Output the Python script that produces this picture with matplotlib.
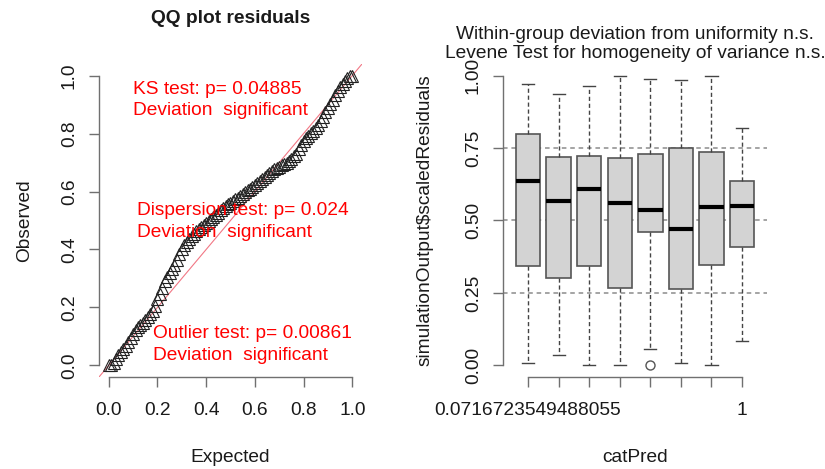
import matplotlib
matplotlib.use('Agg')
import matplotlib.pyplot as plt

plt.rcParams['font.family'] = ['Liberation Sans', 'DejaVu Sans']

# ── QQ plot data ─────────────────────────────────────────────────────────────
expected = [0.00, 0.01, 0.02, 0.03, 0.04, 0.05, 0.06, 0.07, 0.08, 0.09,
            0.10, 0.11, 0.12, 0.13, 0.14, 0.15, 0.16, 0.17, 0.18, 0.19,
            0.20, 0.21, 0.22, 0.23, 0.24, 0.25, 0.26, 0.27, 0.28, 0.29,
            0.30, 0.31, 0.32, 0.33, 0.34, 0.35, 0.36, 0.37, 0.38, 0.39,
            0.40, 0.41, 0.42, 0.43, 0.44, 0.45, 0.46, 0.47, 0.48, 0.49,
            0.50, 0.51, 0.52, 0.53, 0.54, 0.55, 0.56, 0.57, 0.58, 0.59,
            0.60, 0.61, 0.62, 0.63, 0.64, 0.65, 0.66, 0.67, 0.68, 0.69,
            0.70, 0.71, 0.72, 0.73, 0.74, 0.75, 0.76, 0.77, 0.78, 0.79,
            0.80, 0.81, 0.82, 0.83, 0.84, 0.85, 0.86, 0.87, 0.88, 0.89,
            0.90, 0.91, 0.92, 0.93, 0.94, 0.95, 0.96, 0.97, 0.98, 0.99, 1.00]
observed = [0.000, 0.003, 0.010, 0.022, 0.036, 0.045, 0.055, 0.066, 0.080, 0.094,
            0.108, 0.122, 0.131, 0.139, 0.148, 0.157, 0.166, 0.177, 0.188, 0.205,
            0.228, 0.248, 0.268, 0.290, 0.305, 0.318, 0.333, 0.348, 0.365, 0.385,
            0.402, 0.414, 0.425, 0.436, 0.446, 0.455, 0.463, 0.470, 0.478, 0.485,
            0.492, 0.499, 0.505, 0.512, 0.520, 0.527, 0.535, 0.543, 0.551, 0.557,
            0.562, 0.567, 0.573, 0.579, 0.585, 0.591, 0.598, 0.604, 0.610, 0.617,
            0.622, 0.628, 0.635, 0.643, 0.650, 0.657, 0.664, 0.670, 0.676, 0.681,
            0.686, 0.690, 0.694, 0.698, 0.705, 0.713, 0.721, 0.730, 0.745, 0.762,
            0.776, 0.784, 0.792, 0.801, 0.810, 0.819, 0.830, 0.843, 0.858, 0.873,
            0.888, 0.902, 0.917, 0.932, 0.947, 0.960, 0.972, 0.982, 0.991, 0.997, 1.000]

ks_text = ["KS test: p= 0.04885", "Deviation  significant"]
disp_text = ["Dispersion test: p= 0.024", "Deviation  significant"]
outl_text = ["Outlier test: p= 0.00861", "Deviation  significant"]

# ── Boxplot data per catPred group ───────────────────────────────────────────
cat_labels = ["0.0716723549488055", "", "", "", "", "", "", "1"]
box_q1 = [0.344, 0.302, 0.344, 0.268, 0.462, 0.263, 0.346, 0.410]
box_med = [0.637, 0.567, 0.609, 0.560, 0.537, 0.472, 0.546, 0.551]
box_q3 = [0.800, 0.720, 0.724, 0.716, 0.730, 0.749, 0.738, 0.637]
whisk_lo = [0.008, 0.035, 0.001, 0.001, 0.058, 0.009, 0.001, 0.085]
whisk_hi = [0.970, 0.938, 0.963, 1.000, 0.987, 0.984, 0.999, 0.819]
outliers = [[], [], [], [], [0.0], [], [], []]
ref_levels = [0.25, 0.5, 0.75]

FS = 13.8
AX_COL = '#707070'
TXT_COL = '#1a1a1a'

fig = plt.figure(figsize=(8.25, 4.69), dpi=100)
W, H = 825, 469


def place(x0, x1, y_top, y_bot):
    return [x0 / W, (H - y_bot) / H, (x1 - x0) / W, (y_bot - y_top) / H]


def r_style(ax, xbounds, ybounds):
    for s in ['top', 'right']:
        ax.spines[s].set_visible(False)
    for s in ['left', 'bottom']:
        ax.spines[s].set_color(AX_COL)
        ax.spines[s].set_linewidth(1.0)
    ax.spines['bottom'].set_bounds(*xbounds)
    ax.spines['left'].set_bounds(*ybounds)
    ax.tick_params(length=7.2, width=1.0, color=AX_COL, labelcolor=TXT_COL,
                   labelsize=FS)
    ax.tick_params(axis='x', pad=11)
    ax.tick_params(axis='y', pad=8)
    for lab in ax.get_yticklabels():
        lab.set_rotation(90)
        lab.set_va('center')


# ── Left: QQ plot ────────────────────────────────────────────────────────────
ax1 = fig.add_axes(place(99, 362, 64, 377))
ax1.set_xlim(-0.04, 1.04)
ax1.set_ylim(-0.04, 1.04)
ax1.axline((0, 0), (1, 1), color='#ee5566', lw=0.8, alpha=0.8, zorder=1)
ax1.plot(expected, observed, linestyle='none', marker='^', markersize=8,
         markerfacecolor='none', markeredgecolor='#222222', markeredgewidth=0.8,
         zorder=2)
ticks = [0.0, 0.2, 0.4, 0.6, 0.8, 1.0]
ax1.set_xticks(ticks)
ax1.set_yticks(ticks)
ax1.set_xticklabels([f"{t:.1f}" for t in ticks])
ax1.set_yticklabels([f"{t:.1f}" for t in ticks])
r_style(ax1, (0, 1), (0, 1))

for (x, y1, y2), lines in [((0.099, 0.952, 0.879), ks_text),
                           ((0.115, 0.536, 0.460), disp_text),
                           ((0.181, 0.111, 0.035), outl_text)]:
    ax1.text(x, y1, lines[0], color='red', fontsize=FS, ha='left', va='center', zorder=3)
    ax1.text(x, y2, lines[1], color='red', fontsize=FS, ha='left', va='center', zorder=3)

ax1.set_title("QQ plot residuals", fontsize=FS, fontweight='bold', color=TXT_COL,
              y=1.144, va='center', pad=0)
ax1.set_xlabel("Expected", fontsize=FS, color=TXT_COL)
ax1.set_ylabel("Observed", fontsize=FS, color=TXT_COL)
ax1.xaxis.set_label_coords(0.5, -0.256)
ax1.yaxis.set_label_coords(-0.281, 0.5)
ax1.xaxis.label.set_va('center')
ax1.yaxis.label.set_va('center')

# ── Right: boxplots per group ────────────────────────────────────────────────
ax2 = fig.add_axes(place(503, 767, 64, 377))
positions = list(range(1, len(cat_labels) + 1))
stats = []
for i in range(len(cat_labels)):
    stats.append(dict(q1=box_q1[i], med=box_med[i], q3=box_q3[i],
                      whislo=whisk_lo[i], whishi=whisk_hi[i], fliers=outliers[i]))

for lv in ref_levels:
    ax2.axhline(lv, color='#8c8c8c', lw=1.1, linestyle=(0, (3, 2.5)), zorder=1)

ax2.bxp(stats, positions=positions, widths=0.8, patch_artist=True,
        showcaps=True, showfliers=True,
        boxprops=dict(facecolor='#d3d3d3', edgecolor='#555555', linewidth=1.2),
        medianprops=dict(color='black', linewidth=3.0, solid_capstyle='butt'),
        whiskerprops=dict(color='#444444', linewidth=1.0, linestyle=(0, (3, 2))),
        capprops=dict(color='#444444', linewidth=1.0),
        capwidths=0.4,
        flierprops=dict(marker='o', markersize=6.5, markerfacecolor='none',
                        markeredgecolor='#555555', markeredgewidth=1.0),
        zorder=2)
ax2.set_xlim(0.18, 8.82)
ax2.set_ylim(-0.04, 1.04)
ax2.set_xticks(positions)
ax2.set_xticklabels(cat_labels)
yt = [0.0, 0.25, 0.5, 0.75, 1.0]
ax2.set_yticks(yt)
ax2.set_yticklabels([f"{t:.2f}" for t in yt])
r_style(ax2, (1, 8), (0, 1))

ax2.set_title("Within-group deviation from uniformity n.s.\n"
              "Levene Test for homogeneity of variance n.s.",
              fontsize=FS, color=TXT_COL, y=1.064, va='center', linespacing=1.15,
              pad=0)
ax2.set_xlabel("catPred", fontsize=FS, color=TXT_COL)
ax2.set_ylabel(r"simulationOutput\$scaledResiduals", fontsize=FS, color=TXT_COL)
ax2.xaxis.set_label_coords(0.5, -0.256)
ax2.yaxis.set_label_coords(-0.295, 0.5)
ax2.xaxis.label.set_va('center')
ax2.yaxis.label.set_va('center')

fig.savefig('out.png', dpi=100)
